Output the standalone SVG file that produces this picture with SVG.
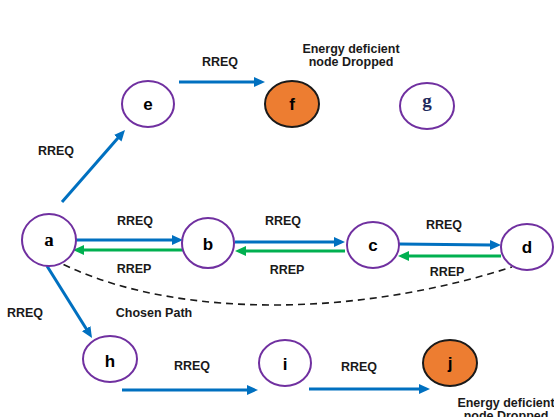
<svg xmlns="http://www.w3.org/2000/svg" width="554" height="417" viewBox="0 0 554 417">
<defs>
<style>
.node{fill:#fff;stroke:#7030A0;stroke-width:2}
.drop{fill:#ED7D31;stroke:#1a1a1a;stroke-width:2}
.nl{font-family:"Liberation Sans",Arial,sans-serif;font-weight:bold;font-size:17px;fill:#000;text-anchor:middle}
.ns{font-family:"Liberation Serif","Times New Roman",serif;font-weight:bold;font-size:19px;fill:#000;text-anchor:middle}
.lb{font-family:"Liberation Sans",Arial,sans-serif;font-weight:bold;font-size:12.5px;fill:#1a1a1a;text-anchor:middle}
.req{stroke:#0070C0;stroke-width:3;fill:none}
.rep{stroke:#00B050;stroke-width:3;fill:none}
</style>
<marker id="ab" markerUnits="userSpaceOnUse" markerWidth="11" markerHeight="10" viewBox="0 0 11 10" refX="1" refY="5" orient="auto"><path d="M0,0 L11,5 L0,10 z" fill="#0070C0"/></marker>
<marker id="ag" markerUnits="userSpaceOnUse" markerWidth="11" markerHeight="10" viewBox="0 0 11 10" refX="1" refY="5" orient="auto"><path d="M0,0 L11,5 L0,10 z" fill="#00B050"/></marker>
</defs>
<rect width="554" height="417" fill="#fff"/>
<g id="connectors">
<line class="req" x1="62" y1="202" x2="118.4" y2="137.5" marker-end="url(#ab)"/>
<line class="req" x1="179" y1="82" x2="255" y2="82" marker-end="url(#ab)"/>
<line class="req" x1="76" y1="240" x2="173" y2="240" marker-end="url(#ab)"/>
<line class="rep" x1="185" y1="250" x2="83" y2="250" marker-end="url(#ag)"/>
<line class="req" x1="235" y1="242" x2="335" y2="242" marker-end="url(#ab)"/>
<line class="rep" x1="345" y1="251" x2="245" y2="251" marker-end="url(#ag)"/>
<line class="req" x1="399" y1="244" x2="491" y2="245" marker-end="url(#ab)"/>
<line class="rep" x1="501" y1="256" x2="408" y2="256" marker-end="url(#ag)"/>
<line class="req" x1="47" y1="266" x2="86.7" y2="329.5" marker-end="url(#ab)"/>
<line class="req" x1="122" y1="390" x2="248" y2="390" marker-end="url(#ab)"/>
<line class="req" x1="309" y1="389" x2="420" y2="389" marker-end="url(#ab)"/>
<path d="M53,259 C150,312 330,325 512,267" fill="none" stroke="#1a1a1a" stroke-width="1.6" stroke-dasharray="7,5"/>
</g>
<g id="node-e"><ellipse class="node" cx="148" cy="104" rx="26" ry="23"/><text class="nl" x="148" y="110">e</text></g>
<g id="node-f"><ellipse class="drop" cx="292" cy="104" rx="27" ry="23"/><text class="nl" x="292" y="110">f</text></g>
<g id="node-g"><ellipse class="node" cx="427" cy="106" rx="27" ry="23"/><text class="ns" x="427" y="107" style="fill:#1F2A5C">g</text></g>
<g id="node-a"><ellipse class="node" cx="49" cy="240" rx="27" ry="26"/><text class="ns" x="49" y="246">a</text></g>
<g id="node-b"><ellipse class="node" cx="208" cy="243" rx="26" ry="25"/><text class="nl" x="208" y="250">b</text></g>
<g id="node-c"><ellipse class="node" cx="373" cy="245" rx="26" ry="23"/><text class="nl" x="373" y="251">c</text></g>
<g id="node-d"><ellipse class="node" cx="527" cy="247" rx="26" ry="23"/><text class="nl" x="527" y="253">d</text></g>
<g id="node-h"><ellipse class="node" cx="110" cy="359" rx="27" ry="23"/><text class="nl" x="110" y="367">h</text></g>
<g id="node-i"><ellipse class="node" cx="285" cy="363" rx="26" ry="23"/><text class="nl" x="285" y="370">i</text></g>
<g id="node-j"><ellipse class="drop" cx="450" cy="363" rx="27" ry="23"/><text class="nl" x="450" y="369">j</text></g>
<g id="labels">
<text class="lb" x="220" y="66">RREQ</text>
<text class="lb" x="56" y="155">RREQ</text>
<text class="lb" x="351" y="53">Energy deficient</text>
<text class="lb" x="351" y="66">node Dropped</text>
<text class="lb" x="135" y="225">RREQ</text>
<text class="lb" x="134" y="273">RREP</text>
<text class="lb" x="283" y="225">RREQ</text>
<text class="lb" x="287" y="274">RREP</text>
<text class="lb" x="444" y="229">RREQ</text>
<text class="lb" x="447" y="276">RREP</text>
<text class="lb" x="25" y="317">RREQ</text>
<text class="lb" x="154" y="317">Chosen Path</text>
<text class="lb" x="192" y="370">RREQ</text>
<text class="lb" x="359" y="371">RREQ</text>
<text class="lb" x="506" y="407">Energy deficient</text>
<text class="lb" x="506" y="420">node Dropped</text>
</g>
</svg>
